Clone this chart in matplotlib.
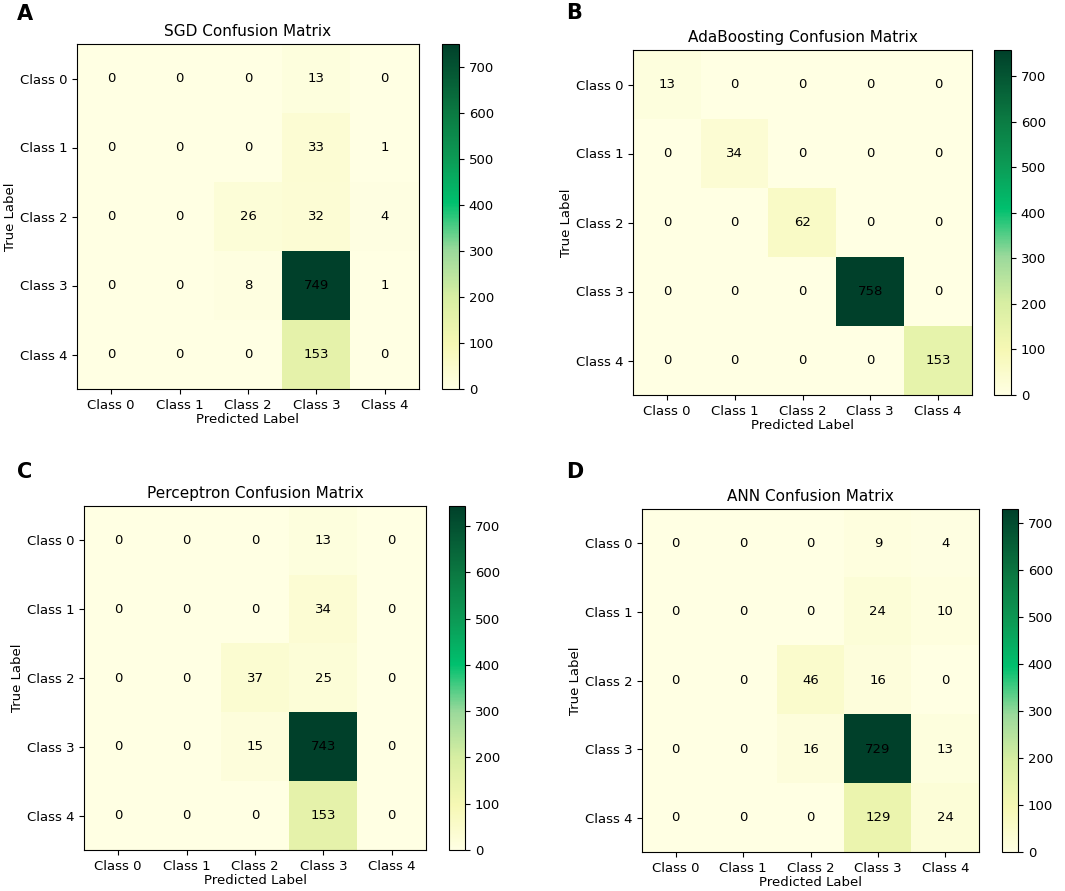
import numpy as np
import matplotlib
matplotlib.use("Agg")
import matplotlib.pyplot as plt
from matplotlib.colors import LinearSegmentedColormap

class_names = ["Class 0", "Class 1", "Class 2", "Class 3", "Class 4"]

sgd_cm = [[0, 0, 0, 13, 0],
          [0, 0, 0, 33, 1],
          [0, 0, 26, 32, 4],
          [0, 0, 8, 749, 1],
          [0, 0, 0, 153, 0]]

ada_cm = [[13, 0, 0, 0, 0],
          [0, 34, 0, 0, 0],
          [0, 0, 62, 0, 0],
          [0, 0, 0, 758, 0],
          [0, 0, 0, 0, 153]]

perc_cm = [[0, 0, 0, 13, 0],
           [0, 0, 0, 34, 0],
           [0, 0, 37, 25, 0],
           [0, 0, 15, 743, 0],
           [0, 0, 0, 153, 0]]

ann_cm = [[0, 0, 0, 9, 4],
          [0, 0, 0, 24, 10],
          [0, 0, 46, 16, 0],
          [0, 0, 16, 729, 13],
          [0, 0, 0, 129, 24]]

titles = ["SGD Confusion Matrix", "AdaBoosting Confusion Matrix",
          "Perceptron Confusion Matrix", "ANN Confusion Matrix"]
panel_letters = ["A", "B", "C", "D"]
matrices = [sgd_cm, ada_cm, perc_cm, ann_cm]

# colormap
cmap = LinearSegmentedColormap.from_list(
    "ylgn_custom",
    [(0.0, "#ffffe3"), (0.13, "#f6f8b4"), (0.27, "#d6eea2"),
     (0.40, "#9bd99b"), (0.54, "#00c06e"), (0.67, "#0c9a55"),
     (0.80, "#0b7a42"), (1.0, "#00402a")])

W, H = 1065, 891
fig = plt.figure(figsize=(W / 100, H / 100), dpi=100)

# pixel boxes: (left, top, right, bottom) for matrix and colorbar, letter pos
boxes = [
    ((77, 44, 419, 389), (442, 459), (17, 14)),
    ((633, 50, 972, 395), (994, 1011), (566, 13)),
    ((84, 506, 426, 850), (449, 465), (17, 472)),
    ((642, 509, 979, 852), (1002, 1018), (566, 472)),
]

def rect(l, t, r, b):
    return [l / W, 1 - b / H, (r - l) / W, (b - t) / H]

for cm, title, letter, (ab, cb, lp) in zip(matrices, titles, panel_letters, boxes):
    cm = np.array(cm)
    ax = fig.add_axes(rect(*ab))
    im = ax.imshow(cm, cmap=cmap, aspect="auto")
    ax.set_title(title, fontsize=11, pad=6)
    ax.set_xticks(range(len(class_names)))
    ax.set_yticks(range(len(class_names)))
    ax.set_xticklabels(class_names, fontsize=9.5)
    ax.set_yticklabels(class_names, fontsize=9.5)
    ax.set_xlabel("Predicted Label", fontsize=9.5, labelpad=1)
    ax.set_ylabel("True Label", fontsize=9.5, labelpad=2)
    for i in range(cm.shape[0]):
        for j in range(cm.shape[1]):
            ax.text(j, i, str(cm[i, j]), ha="center", va="center",
                    color="black", fontsize=9.5)
    cax = fig.add_axes(rect(cb[0], ab[1], cb[1], ab[3]))
    cbar = fig.colorbar(im, cax=cax)
    cbar.ax.tick_params(labelsize=9.5)
    fig.text(lp[0] / W, 1 - lp[1] / H, letter, fontsize=15, fontweight="bold",
             ha="left", va="center")

fig.savefig("out.png", dpi=100)
